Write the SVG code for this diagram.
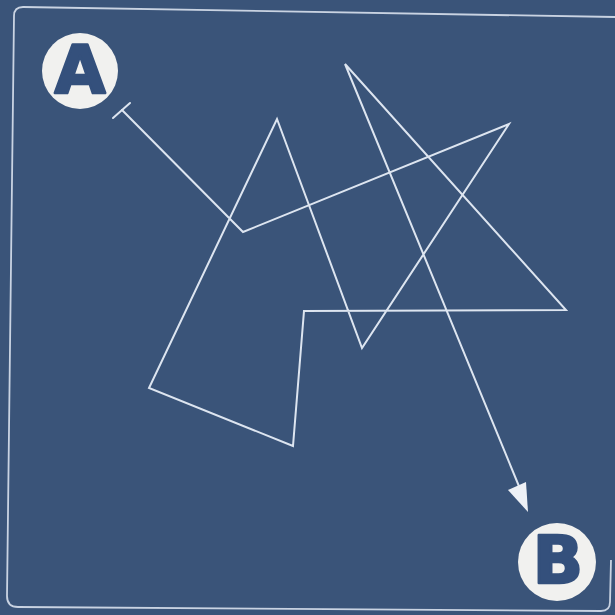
<svg xmlns="http://www.w3.org/2000/svg" width="615" height="615" viewBox="0 0 615 615">
  <defs>
    <style>
      .ln { fill: none; stroke: #dde5f0; stroke-width: 2; stroke-linejoin: miter; stroke-linecap: round; }
      .frame { fill: none; stroke: #c9d3e2; stroke-width: 1.8; }
      .badge { fill: #f1f1ef; }
      .lbl { font-family: "DejaVu Sans", "Liberation Sans", sans-serif; font-weight: 900; font-size: 66px; fill: #34507c; stroke: #34507c; stroke-width: 2.5; stroke-linejoin: round; text-anchor: middle; }
    </style>
  </defs>
  <rect width="615" height="615" fill="#3a5479"/>
  <path class="frame" d="M615,17 L23,7 Q14,7 14,16 L7,596 Q7,607 18,607 L601,611 Q610,611 610,602 L611,560"/>
  <g id="connectors">
    <polyline class="ln" points="122,110 243,232 509,124 362,348 277,119 149,388 293,446 304,311 566,310 345,64 523,496"/>
    <line class="ln" x1="113" y1="118" x2="130" y2="103" stroke-width="4"/>
    <path d="M508,490 L526,482 L528,512 Z" fill="#eef1f6"/>
  </g>
  <g id="node-A">
    <circle class="badge" cx="80" cy="71" r="38"/>
    <text class="lbl" x="80" y="93">A</text>
  </g>
  <g id="node-B">
    <circle class="badge" cx="557" cy="562" r="39"/>
    <text class="lbl" x="558" y="583">B</text>
  </g>
</svg>
